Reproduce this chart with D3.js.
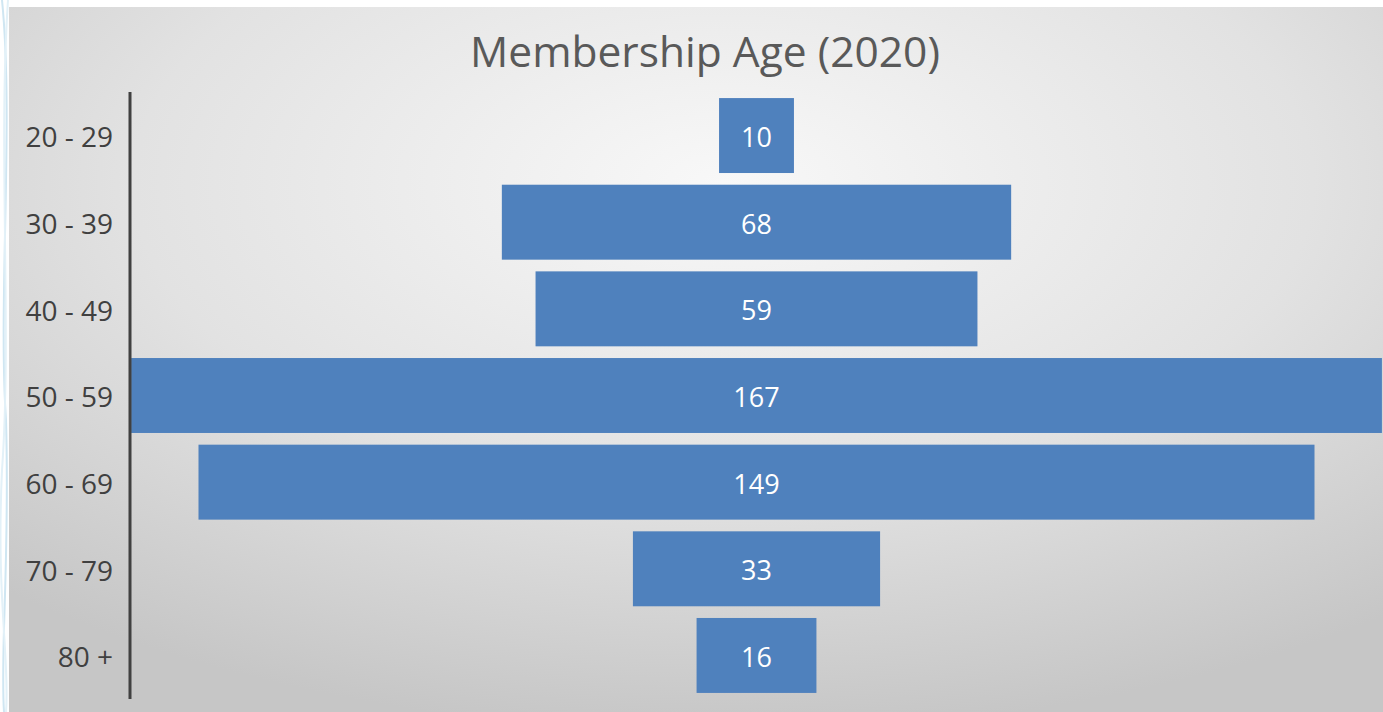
<!DOCTYPE html>
<html>
<head>
<meta charset="utf-8">
<script src="https://cdn.jsdelivr.net/npm/d3@7"></script>
<style>
  body { margin: 0; background: #fff; overflow: hidden; }
</style>
</head>
<body>
<script>
var ageGroups = ["20 - 29", "30 - 39", "40 - 49", "50 - 59", "60 - 69", "70 - 79", "80 +"];
var members = [10, 68, 59, 167, 149, 33, 16];
var chartTitle = "Membership Age (2020)";

var totalWidth = 1383, totalHeight = 712;
var panel = {x: 9, y: 7};
var centerX = 756.5;
var pxPerUnit = 7.49;

var svg = d3.select("body").append("svg")
    .attr("width", totalWidth)
    .attr("height", totalHeight);

var defs = svg.append("defs");
var grad = defs.append("radialGradient")
    .attr("id", "bg")
    .attr("cx", "52%").attr("cy", "25%").attr("r", "78%");
grad.append("stop").attr("offset", "0%").attr("stop-color", "#f8f8f8");
grad.append("stop").attr("offset", "55%").attr("stop-color", "#e2e2e2");
grad.append("stop").attr("offset", "100%").attr("stop-color", "#c6c6c6");

// decorative light blue strokes on the far left
var deco = svg.append("g").attr("fill", "none").attr("stroke", "#cfe6f2").attr("stroke-width", 2);
deco.append("path").attr("d", "M2,0 C14,120 -2,300 6,420 C10,560 0,650 4,712");
deco.append("path").attr("d", "M8,0 C-2,150 12,330 2,470 C-4,600 10,660 6,712").attr("stroke", "#e3f1f8");

svg.append("rect")
    .attr("x", panel.x).attr("y", panel.y)
    .attr("width", totalWidth - panel.x).attr("height", totalHeight - panel.y)
    .attr("fill", "url(#bg)");

var y = d3.scaleBand()
    .domain(ageGroups)
    .range([92, 699])
    .paddingInner(0.135)
    .paddingOuter(0.07);

var x = d3.scaleLinear()
    .domain([0, 1])
    .range([0, pxPerUnit]);

svg.append("text")
    .attr("x", 705).attr("y", 67)
    .attr("text-anchor", "middle")
    .attr("font-family", "'Open Sans', sans-serif")
    .attr("font-size", 42.5)
    .attr("fill", "#595959")
    .text(chartTitle);

var rows = svg.selectAll("g.row")
    .data(ageGroups)
    .enter().append("g")
    .attr("class", "row");

rows.append("rect")
    .attr("x", function(d, i) { return centerX - x(members[i]) / 2; })
    .attr("y", function(d) { return y(d); })
    .attr("width", function(d, i) { return x(members[i]); })
    .attr("height", y.bandwidth())
    .attr("fill", "#4f81bd");

rows.append("text")
    .attr("x", centerX)
    .attr("y", function(d) { return y(d) + y.bandwidth() / 2 + 2; })
    .attr("dy", "0.35em")
    .attr("text-anchor", "middle")
    .attr("font-family", "'Open Sans', sans-serif")
    .attr("font-size", 27)
    .attr("fill", "#ffffff")
    .text(function(d, i) { return members[i]; });

var yAxis = d3.axisLeft(y).tickSize(0).tickPadding(17);
var yAxisG = svg.append("g")
    .attr("transform", "translate(130,0)")
    .call(yAxis);
yAxisG.select(".domain")
    .attr("d", "M0,92V699")
    .attr("stroke", "#404040")
    .attr("stroke-width", 3);
yAxisG.selectAll(".tick text")
    .attr("dy", "0.42em")
    .attr("font-family", "'Open Sans', sans-serif")
    .attr("font-size", 28)
    .attr("fill", "#404040");
</script>
</body>
</html>
